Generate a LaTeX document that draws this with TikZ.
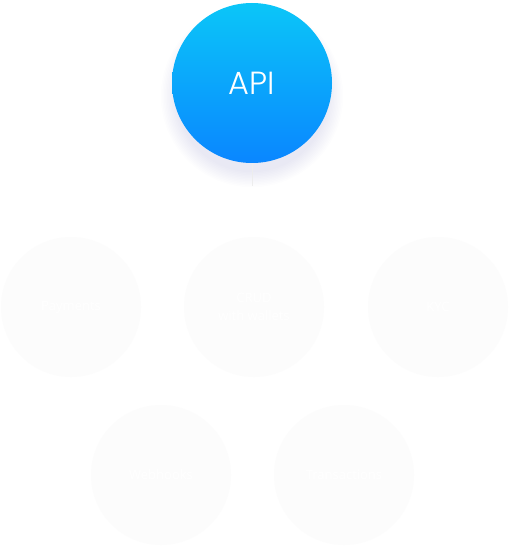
\documentclass[tikz,border=0pt]{standalone}
\usepackage{fontspec}
\setmainfont{Open Sans}
\newfontfamily\apifont{Poppins Light}
\usetikzlibrary{calc}
\definecolor{apitop}{HTML}{0BC6F8}
\definecolor{apibot}{HTML}{0A86FF}
\definecolor{glow}{HTML}{6A6AE6}
\definecolor{softfill}{HTML}{FCFCFC}
\definecolor{linegray}{HTML}{EDEDED}
\tikzset{
  feature/.style={circle, fill=softfill, minimum size=140pt, inner sep=0pt,
    text=white, align=center, font=\fontsize{13}{18}\selectfont},
  apinode/.style={circle, minimum size=160pt, inner sep=0pt,
    top color=apitop, bottom color=apibot, text=white,
    font=\apifont\fontsize{32}{34}\selectfont},
  link/.style={draw=linegray, line width=1pt}
}
\begin{document}
\begin{tikzpicture}[x=1pt,y=-1pt]
\useasboundingbox (0,0) rectangle (510,548);
\fill[white] (0,0) rectangle (510,548);
% glow under API
\foreach \r in {76,77.5,...,92}{
  \fill[glow, opacity=0.012] (252,96) circle (\r);
}
\coordinate (tail) at (252,186);
\node[apinode] (api) at (252,83) {API};
\draw[link] (api.south) -- (tail);
\node[feature] (pay) at (71,307) {Payments};
\node[feature] (crud) at (254,307) {CRUD\\with wallets};
\node[feature] (kyc) at (438,307) {KYC};
\node[feature] (web) at (161,475) {Webhooks};
\node[feature] (tx) at (344,475) {Transactions};
\end{tikzpicture}
\end{document}
